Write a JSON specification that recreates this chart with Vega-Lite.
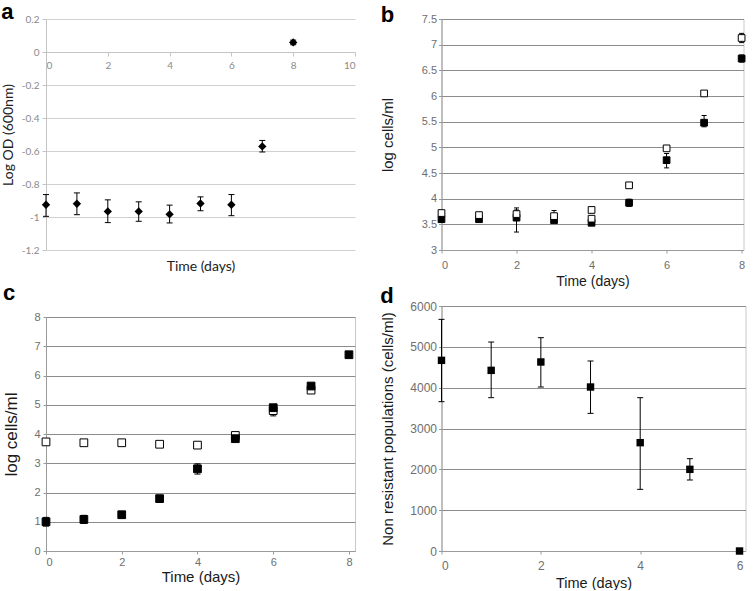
{
  "$schema": "https://vega.github.io/schema/vega-lite/v6.json",
  "padding": {"left": 1, "top": 1, "right": 0, "bottom": 0},
  "background": "#ffffff",
  "datasets": {
    "a": [
      {"t": 0, "v": -0.926, "lo": -0.996, "hi": -0.864},
      {"t": 1, "v": -0.92, "lo": -0.986, "hi": -0.854},
      {"t": 2, "v": -0.966, "lo": -1.034, "hi": -0.896},
      {"t": 3, "v": -0.966, "lo": -1.026, "hi": -0.908},
      {"t": 4, "v": -0.984, "lo": -1.036, "hi": -0.928},
      {"t": 5, "v": -0.918, "lo": -0.962, "hi": -0.878},
      {"t": 6, "v": -0.926, "lo": -0.992, "hi": -0.864},
      {"t": 7, "v": -0.572, "lo": -0.606, "hi": -0.536},
      {"t": 8, "v": 0.058, "lo": 0.044, "hi": 0.072}
    ],
    "b": [
      {"t": 0, "s": "filled", "v": 3.6, "lo": 3.57, "hi": 3.63},
      {"t": 1, "s": "filled", "v": 3.6, "lo": 3.57, "hi": 3.63},
      {"t": 2, "s": "filled", "v": 3.63, "lo": 3.35, "hi": 3.82},
      {"t": 3, "s": "filled", "v": 3.58, "lo": 3.55, "hi": 3.61},
      {"t": 4, "s": "filled", "v": 3.53, "lo": 3.5, "hi": 3.56},
      {"t": 5, "s": "filled", "v": 3.92, "lo": 3.85, "hi": 3.99},
      {"t": 6, "s": "filled", "v": 4.75, "lo": 4.6, "hi": 4.88},
      {"t": 7, "s": "filled", "v": 5.48, "lo": 5.4, "hi": 5.62},
      {"t": 8, "s": "filled", "v": 6.73, "lo": 6.66, "hi": 6.8},
      {"t": 0, "s": "open", "v": 3.72, "lo": 3.68, "hi": 3.76},
      {"t": 1, "s": "open", "v": 3.68, "lo": 3.64, "hi": 3.72},
      {"t": 2, "s": "open", "v": 3.7, "lo": 3.62, "hi": 3.78},
      {"t": 3, "s": "open", "v": 3.66, "lo": 3.56, "hi": 3.77},
      {"t": 4, "s": "open", "v": 3.78, "lo": 3.75, "hi": 3.81},
      {"t": 5, "s": "open", "v": 4.26, "lo": 4.21, "hi": 4.31},
      {"t": 6, "s": "open", "v": 4.98, "lo": 4.94, "hi": 5.02},
      {"t": 7, "s": "open", "v": 6.05, "lo": 6.02, "hi": 6.08},
      {"t": 8, "s": "open", "v": 7.13, "lo": 7.04, "hi": 7.22},
      {"t": 4, "s": "open", "v": 3.61, "lo": 3.59, "hi": 3.63}
    ],
    "c": [
      {"t": 0, "s": "open", "v": 3.73, "lo": 3.7, "hi": 3.76},
      {"t": 1, "s": "open", "v": 3.7, "lo": 3.67, "hi": 3.73},
      {"t": 2, "s": "open", "v": 3.7, "lo": 3.67, "hi": 3.73},
      {"t": 3, "s": "open", "v": 3.65, "lo": 3.62, "hi": 3.68},
      {"t": 4, "s": "open", "v": 3.62, "lo": 3.59, "hi": 3.65},
      {"t": 5, "s": "open", "v": 3.95, "lo": 3.92, "hi": 3.98},
      {"t": 6, "s": "open", "v": 4.8, "lo": 4.62, "hi": 4.95},
      {"t": 7, "s": "open", "v": 5.5, "lo": 5.42, "hi": 5.58},
      {"t": 0, "s": "filled", "v": 1.0, "lo": 0.85, "hi": 1.15},
      {"t": 1, "s": "filled", "v": 1.08, "lo": 0.94, "hi": 1.22},
      {"t": 2, "s": "filled", "v": 1.24, "lo": 1.2, "hi": 1.28},
      {"t": 3, "s": "filled", "v": 1.79, "lo": 1.76, "hi": 1.82},
      {"t": 4, "s": "filled", "v": 2.81, "lo": 2.63, "hi": 2.98},
      {"t": 5, "s": "filled", "v": 3.84, "lo": 3.81, "hi": 3.87},
      {"t": 6, "s": "filled", "v": 4.9, "lo": 4.85, "hi": 4.95},
      {"t": 7, "s": "filled", "v": 5.64, "lo": 5.6, "hi": 5.68},
      {"t": 8, "s": "filled", "v": 6.71, "lo": 6.68, "hi": 6.74}
    ],
    "d": [
      {"t": 0, "v": 4669, "lo": 3657, "hi": 5673},
      {"t": 1, "v": 4424, "lo": 3755, "hi": 5118},
      {"t": 2, "v": 4629, "lo": 4016, "hi": 5224},
      {"t": 3, "v": 4016, "lo": 3371, "hi": 4653},
      {"t": 4, "v": 2653, "lo": 1510, "hi": 3755},
      {"t": 5, "v": 2000, "lo": 1739, "hi": 2261},
      {"t": 6, "v": 0, "lo": 0, "hi": 0}
    ]
  },
  "config": {
    "view": {"stroke": "#c8c8c8"},
    "axis": {
      "domainColor": "#9a9a9a",
      "tickColor": "#9a9a9a",
      "tickSize": 3,
      "labelColor": "#6e6e6e",
      "labelFont": "Liberation Sans",
      "labelFontSize": 11,
      "labelOverlap": false,
      "titleFont": "Liberation Sans",
      "titleFontWeight": "normal",
      "titleColor": "#1a1a1a",
      "gridColor": "#8c8c8c",
      "gridOpacity": 1
    },
    "axisX": {"grid": false},
    "title": {"font": "Liberation Sans", "fontWeight": "bold", "fontSize": 22, "color": "#000", "anchor": "start", "frame": "bounds", "baseline": "alphabetic"}
  },
  "hconcat": [
    {
      "vconcat": [
        {
          "title": {"text": "a", "offset": -10},
          "width": 309,
          "height": 231,
          "view": {"stroke": null},
          "data": {"name": "a"},
          "layer": [
            {
              "mark": {"type": "rule", "color": "#000", "strokeWidth": 1},
              "encoding": {
                "x": {"field": "t", "type": "quantitative", "scale": {"domain": [0, 10], "nice": false},
                  "axis": {"orient": "bottom", "offset": -198, "values": [0, 2, 4, 6, 8, 10], "format": "d", "tickCount": 50, "tickSize": 4, "domainColor": "#c4c4c4", "tickColor": "#c4c4c4", "labelFont": "Lato", "labelFontSize": 10, "labelColor": "#8a8a8a", "labelPadding": 4, "title": "Time (days)", "titleFont": "Lato", "titleFontSize": 14, "titleColor": "#222", "titlePadding": 189}},
                "y": {"field": "lo", "type": "quantitative", "scale": {"domain": [-1.2, 0.2], "nice": false, "zero": false},
                  "axis": {"values": [-1.2, -1, -0.8, -0.6, -0.4, -0.2, 0, 0.2], "tickCount": 50, "tickSize": 4, "labelPadding": 3, "labelExpr": "replace(format(datum.value, '~g'), '\u2212', '-')", "grid": true, "gridColor": "#d0d0d0", "domainColor": "#c4c4c4", "tickColor": "#c4c4c4", "labelFont": "Lato", "labelFontSize": 10, "labelColor": "#8a8a8a", "title": "Log OD (600nm)", "titleFont": "Lato", "titleFontSize": 14, "titleColor": "#222", "titlePadding": 6}},
                "y2": {"field": "hi"}
              }
            },
            {
              "mark": {"type": "tick", "orient": "horizontal", "size": 6, "thickness": 1, "color": "#000", "opacity": 1},
              "encoding": {"x": {"field": "t", "type": "quantitative"}, "y": {"field": "lo", "type": "quantitative"}}
            },
            {
              "mark": {"type": "tick", "orient": "horizontal", "size": 6, "thickness": 1, "color": "#000", "opacity": 1},
              "encoding": {"x": {"field": "t", "type": "quantitative"}, "y": {"field": "hi", "type": "quantitative"}}
            },
            {
              "mark": {"type": "point", "shape": "diamond", "filled": true, "size": 70, "color": "#000", "opacity": 1},
              "encoding": {"x": {"field": "t", "type": "quantitative"}, "y": {"field": "v", "type": "quantitative"}}
            }
          ]
        },
        {
          "title": {"text": "c", "offset": 6},
          "width": 309,
          "height": 234,
          "data": {"name": "c"},
          "layer": [
            {
              "mark": {"type": "rule", "color": "#000", "strokeWidth": 1},
              "encoding": {
                "x": {"field": "t", "type": "quantitative", "scale": {"domain": [0, 8.16], "nice": false},
                  "axis": {"values": [0, 2, 4, 6, 8], "format": "d", "tickCount": 50, "tickSize": 3, "labelPadding": 2, "title": "Time (days)", "titleFontSize": 15, "titlePadding": 2}},
                "y": {"field": "lo", "type": "quantitative", "scale": {"domain": [0, 8], "nice": false},
                  "axis": {"values": [0, 1, 2, 3, 4, 5, 6, 7, 8], "format": "d", "tickCount": 50, "labelPadding": 3, "grid": true, "title": "log cells/ml", "titleFontSize": 17, "titlePadding": 13}},
                "y2": {"field": "hi"}
              }
            },
            {
              "mark": {"type": "tick", "orient": "horizontal", "size": 6, "thickness": 1, "color": "#000", "opacity": 1},
              "encoding": {"x": {"field": "t", "type": "quantitative"}, "y": {"field": "lo", "type": "quantitative"}}
            },
            {
              "mark": {"type": "tick", "orient": "horizontal", "size": 6, "thickness": 1, "color": "#000", "opacity": 1},
              "encoding": {"x": {"field": "t", "type": "quantitative"}, "y": {"field": "hi", "type": "quantitative"}}
            },
            {
              "mark": {"type": "point", "shape": "square", "filled": true, "stroke": "#000", "strokeWidth": 1, "size": 60, "opacity": 1},
              "encoding": {
                "x": {"field": "t", "type": "quantitative"},
                "y": {"field": "v", "type": "quantitative"},
                "fill": {"field": "s", "type": "nominal", "scale": {"domain": ["filled", "open"], "range": ["#000000", "#ffffff"]}, "legend": null}
              }
            }
          ]
        }
      ],
      "spacing": 8
    },
    {
      "vconcat": [
        {
          "title": {"text": "b", "offset": -14},
          "width": 302,
          "height": 231,
          "data": {"name": "b"},
          "layer": [
            {
              "mark": {"type": "rule", "color": "#000", "strokeWidth": 1},
              "encoding": {
                "x": {"field": "t", "type": "quantitative", "scale": {"domain": [0, 8.05], "nice": false},
                  "axis": {"values": [0, 2, 4, 6, 8], "format": "d", "tickCount": 50, "labelPadding": 6, "title": "Time (days)", "titleFontSize": 14, "titlePadding": 4}},
                "y": {"field": "lo", "type": "quantitative", "scale": {"domain": [3, 7.5], "nice": false, "zero": false},
                  "axis": {"values": [3, 3.5, 4, 4.5, 5, 5.5, 6, 6.5, 7, 7.5], "tickCount": 50, "labelPadding": 2, "format": "~g", "grid": true, "title": "log cells/ml", "titleFontSize": 15, "titlePadding": 25.5}},
                "y2": {"field": "hi"}
              }
            },
            {
              "mark": {"type": "tick", "orient": "horizontal", "size": 5, "thickness": 1, "color": "#000", "opacity": 1},
              "encoding": {"x": {"field": "t", "type": "quantitative"}, "y": {"field": "lo", "type": "quantitative"}}
            },
            {
              "mark": {"type": "tick", "orient": "horizontal", "size": 5, "thickness": 1, "color": "#000", "opacity": 1},
              "encoding": {"x": {"field": "t", "type": "quantitative"}, "y": {"field": "hi", "type": "quantitative"}}
            },
            {
              "mark": {"type": "point", "shape": "square", "filled": true, "stroke": "#000", "strokeWidth": 1, "size": 45, "opacity": 1},
              "encoding": {
                "x": {"field": "t", "type": "quantitative"},
                "y": {"field": "v", "type": "quantitative"},
                "fill": {"field": "s", "type": "nominal", "scale": {"domain": ["filled", "open"], "range": ["#000000", "#ffffff"]}, "legend": null}
              }
            }
          ]
        },
        {
          "title": {"text": "d", "offset": -8},
          "width": 304,
          "height": 245,
          "data": {"name": "d"},
          "layer": [
            {
              "mark": {"type": "rule", "color": "#000", "strokeWidth": 1},
              "encoding": {
                "x": {"field": "t", "type": "quantitative", "scale": {"domain": [0, 6.12], "nice": false},
                  "axis": {"values": [0, 2, 4, 6], "format": "d", "tickCount": 50, "labelFontSize": 12, "labelPadding": 6, "title": "Time (days)", "titleFontSize": 14.5, "titlePadding": 5}},
                "y": {"field": "lo", "type": "quantitative", "scale": {"domain": [0, 6000], "nice": false},
                  "axis": {"values": [0, 1000, 2000, 3000, 4000, 5000, 6000], "tickCount": 50, "labelFontSize": 12, "labelPadding": 2, "format": "d", "grid": true, "title": "Non resistant populations (cells/ml)", "titleFontSize": 15, "titlePadding": 14.5}},
                "y2": {"field": "hi"}
              }
            },
            {
              "mark": {"type": "tick", "orient": "horizontal", "size": 6, "thickness": 1, "color": "#000", "opacity": 1},
              "encoding": {"x": {"field": "t", "type": "quantitative"}, "y": {"field": "lo", "type": "quantitative"}}
            },
            {
              "mark": {"type": "tick", "orient": "horizontal", "size": 6, "thickness": 1, "color": "#000", "opacity": 1},
              "encoding": {"x": {"field": "t", "type": "quantitative"}, "y": {"field": "hi", "type": "quantitative"}}
            },
            {
              "mark": {"type": "point", "shape": "square", "filled": true, "color": "#000", "size": 55, "opacity": 1},
              "encoding": {"x": {"field": "t", "type": "quantitative"}, "y": {"field": "v", "type": "quantitative"}}
            }
          ]
        }
      ],
      "spacing": -5
    }
  ],
  "spacing": 23.5
}
